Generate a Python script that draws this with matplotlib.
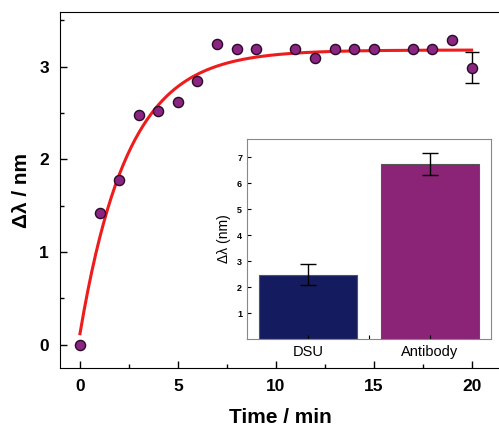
import numpy as np
import matplotlib.pyplot as plt

plt.rcParams['font.family'] = ['Liberation Sans', 'DejaVu Sans']

# datos principais
tempo = [0, 1, 2, 3, 4, 5, 6, 7, 8, 9, 11, 12, 13, 14, 15, 17, 18, 19, 20]
dl = [0.0, 1.42, 1.78, 2.48, 2.52, 2.62, 2.85, 3.25, 3.19, 3.19, 3.19, 3.09,
      3.19, 3.19, 3.19, 3.19, 3.19, 3.29, 2.99]
erro_x = [20]
erro_y = [2.99]
erro_val = [0.17]

# parametros do ajuste exponencial
y0 = 0.12
A = 3.06
k = 0.41

# inset
grupos = ['DSU', 'Antibody']
barras = [2.48, 6.75]
barras_err = [0.42, 0.42]
cores = ['#141c5f', '#8b2377']

fig = plt.figure(figsize=(4.99, 4.29), dpi=100)
ax = fig.add_axes([60/499, (429-368)/429, (501-60)/499, (368-12)/429])

t = np.linspace(0, 20, 200)
ax.plot(t, y0 + A*(1 - np.exp(-k*t)), color='#ee1c1c', lw=2.2, zorder=2)
ax.errorbar(erro_x, erro_y, yerr=erro_val, fmt='none', ecolor='black',
            elinewidth=1, capsize=5, zorder=3)
ax.plot(tempo, dl, 'o', ms=7.3, mfc='#8b2582', mec='#2a0a28', mew=1.0, zorder=4)

ax.set_xlim(-1.02, 21.5)
ax.set_ylim(-0.25, 3.59)
ax.set_xticks([0, 5, 10, 15, 20])
ax.set_xticks(np.arange(0, 21, 2.5), minor=True)
ax.set_yticks([0, 1, 2, 3])
ax.set_yticks(np.arange(0, 3.6, 0.5), minor=True)
ax.tick_params(direction='in', length=5, width=1, labelsize=12.5, pad=8)
ax.tick_params(which='minor', direction='in', length=3, width=1)
for lb in ax.get_xticklabels() + ax.get_yticklabels():
    lb.set_fontweight('bold')
ax.spines['right'].set_visible(False)
ax.set_xlabel('Time / min', fontsize=15, fontweight='bold', labelpad=10)
ax.set_ylabel('Δλ / nm', fontsize=15, fontweight='bold', labelpad=6)

# inset
ins = fig.add_axes([247/499, (429-339)/429, (491-247)/499, (339-139)/429])
ins.bar([0, 1], barras, width=0.8, color=cores, edgecolor='#555555', lw=0.8,
        yerr=barras_err, capsize=6, error_kw=dict(elinewidth=1, capthick=1))
ins.set_xlim(-0.5, 1.5)
ins.set_ylim(0, 7.7)
ins.set_xticks([0, 1])
ins.set_xticklabels(grupos)
ins.set_xticks([0.5], minor=True)
ins.set_yticks([1, 2, 3, 4, 5, 6, 7])
ins.tick_params(direction='in', length=3, width=0.8, labelsize=6.5)
ins.tick_params(axis='x', labelsize=10.5, pad=4)
ins.tick_params(which='minor', direction='in', length=3, width=0.8)
for lb in ins.get_yticklabels():
    lb.set_fontweight('bold')
for s in ins.spines.values():
    s.set_color('#888888')
ins.set_ylabel('Δλ (nm)', fontsize=10, labelpad=4)

fig.savefig('out.png', dpi=100)
